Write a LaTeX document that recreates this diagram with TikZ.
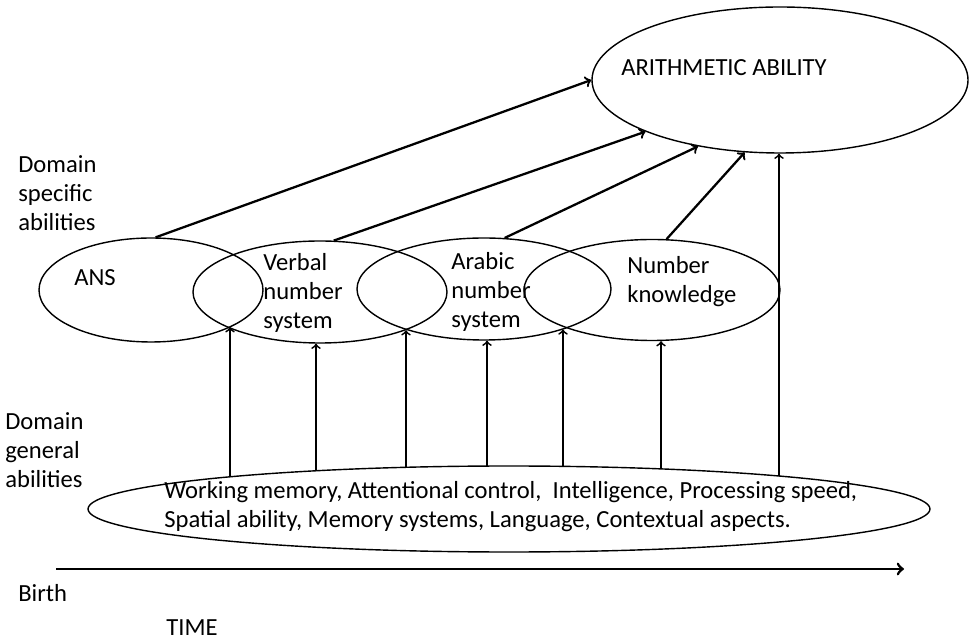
\documentclass[tikz,border=0pt]{standalone}
\usepackage{fontspec}
\setmainfont{Carlito}
\usetikzlibrary{shapes.geometric}
\begin{document}
\begin{tikzpicture}[
	oval/.style={draw,ellipse,line width=0.8pt,inner sep=0pt},
	txt/.style={anchor=west,align=left,inner sep=0pt,font=\fontsize{14}{16.5}\selectfont},
	link/.style={->,line width=1pt},
	]
	\useasboundingbox (0,0) rectangle (19.38,12.82);
	\node[oval,minimum width=7.52cm,minimum height=2.92cm] (arith) at (15.6,11.22) {};
	\node[oval,minimum width=4.48cm,minimum height=2.08cm] (ans) at (3.02,7.02) {};
	\node[oval,minimum width=5.08cm,minimum height=2.04cm] (verbal) at (6.40,6.98) {};
	\node[oval,minimum width=5.08cm,minimum height=2.04cm] (arabic) at (9.68,7.04) {};
	\node[oval,minimum width=5.12cm,minimum height=2.02cm] (number) at (13.04,7.02) {};
	\node[oval,minimum width=16.84cm,minimum height=1.72cm] (general) at (10.18,2.64) {};

	\node[txt] (arithtxt) at (12.42,11.46) {ARITHMETIC ABILITY};
	\node[txt] (anstxt) at (1.48,7.26) {ANS};
	\node[txt] (verbaltxt) at (5.26,6.96) {Verbal\\number\\system};
	\node[txt] (arabictxt) at (9.02,6.98) {Arabic\\number\\system};
	\node[txt] (numbertxt) at (12.54,7.18) {Number\\knowledge};
	\node[txt] (generaltxt) at (3.28,2.68) {Working memory, Attentional control,\ \ Intelligence, Processing speed,\\Spatial ability, Memory systems, Language, Contextual aspects.};
	\node[txt] (specific) at (0.36,8.96) {Domain\\specific\\abilities};
	\node[txt] (generallbl) at (0.10,3.82) {Domain\\general\\abilities};
	\node[txt] (birth) at (0.36,0.96) {Birth};
	\node[txt] (time) at (3.32,0.26) {TIME};

	% domain specific to arithmetic
	\draw[link,line width=1.3pt] (ans.85) -- (arith.180);
	\draw[link,line width=1.3pt] (verbal.75) -- (arith.201);
	\draw[link,line width=1.3pt] (arabic.68) -- (arith.219);
	\draw[link,line width=1.3pt] (number.74) -- (arith.244);

	% domain general upwards
	\draw[link] ([shift={(-5.58,0.644)}]general.center) coordinate (g1) -- (g1 |- ans.335);
	\draw[link] ([shift={(-3.86,0.764)}]general.center) coordinate (g2) -- (g2 |- verbal.south);
	\draw[link] ([shift={(-2.06,0.834)}]general.center) coordinate (g3) -- (g3 |- verbal.336.4);
	\draw[link] ([shift={(-0.44,0.858)}]general.center) coordinate (g4) -- (g4 |- arabic.south);
	\draw[link] ([shift={(1.08,0.852)}]general.center) coordinate (g5) -- (g5 |- arabic.333.2);
	\draw[link] ([shift={(3.04,0.802)}]general.center) coordinate (g6) -- (g6 |- number.south);
	\draw[link] ([shift={(5.40,0.66)}]general.center) coordinate (g7) -- (g7 |- arith.south);

	% time line
	\coordinate (start) at (1.12,1.44);
	\coordinate (end) at (18.08,1.44);
	\draw[->,line width=1.6pt] (start) -- (end);
\end{tikzpicture}
\end{document}
